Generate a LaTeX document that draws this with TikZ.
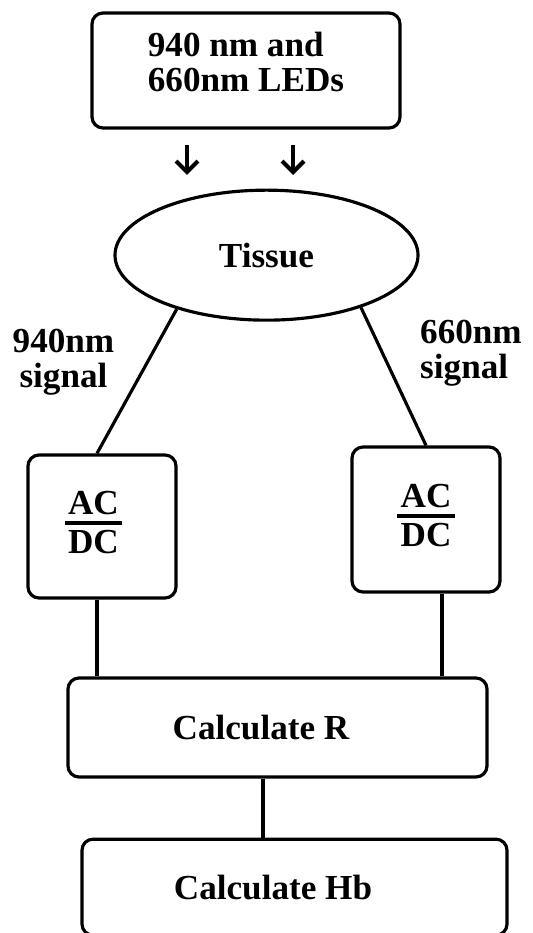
\documentclass[tikz,border=0pt]{standalone}
\usepackage{amsmath}
\usepackage{fontspec}
\setmainfont{Liberation Serif}
\usetikzlibrary{arrows.meta,positioning,shapes.geometric}
\newcommand{\acdc}{\begin{tabular}{@{\hspace{2pt}}c@{\hspace{2pt}}}AC\\[-2pt]\noalign{\hrule height 2.2pt}\rule{0pt}{16pt}DC\end{tabular}}

\begin{document}
\begin{tikzpicture}[every node/.style={font=\fontsize{20}{20}\selectfont\bfseries,align=center},
  box/.style={rounded corners=2.2mm,draw,line width=1.8pt,inner sep=0pt},
  oval/.style={ellipse,draw,line width=1.8pt,inner sep=0pt,minimum width=6.06cm,minimum height=2.6cm},
  wire/.style={line width=1.8pt},
  tip/.style={-{Straight Barb[length=2.2mm,width=4.4mm]},line width=2.4pt}]
  \useasboundingbox (0,0) rectangle (10.66,-18.66);
  \node[box,minimum width=6.16cm,minimum height=2.3cm,align=left] (leds) at (4.92,-1.41) {940 nm and\\660nm LEDs\rule[-3.6mm]{0pt}{0pt}};
  \node[oval,below=1.18cm of leds,xshift=4.1mm] (tissue) {Tissue};
  \node[box,minimum width=2.96cm,minimum height=2.86cm] (acl) at (2.04,-10.53) {\acdc\hspace{0.34cm}};
  \node[box,minimum width=2.96cm,minimum height=2.9cm] (acr) at (8.52,-10.39) {\acdc};
  \node[box,minimum width=8.38cm,minimum height=1.98cm] (calcr) at (5.55,-14.55) {Calculate R\hspace{0.66cm}};
  \node[box,minimum width=8.5cm,minimum height=1.92cm,below=1.18cm of calcr,xshift=3.4mm] (calchb) {Calculate Hb\hspace{0.86cm}};
  % light from the LEDs into the tissue
  \coordinate (inl) at (3.74,-2.9); \coordinate (outl) at (3.74,-3.5);
  \coordinate (inr) at (5.86,-2.9); \coordinate (outr) at (5.86,-3.5);
  \draw[tip] (inl)--(outl); \draw[tip] (inr)--(outr);
  % the two signals
  \draw[wire] (tissue.211)--([xshift=-1mm]acl.north);
  \draw[wire] (tissue.331)--(acr.north);
  \node (sigl) at (1.27,-7.25) {940nm\\signal};
  \node[align=left] (sigr) at (9.42,-7.06) {660nm\\signal};
  \draw[wire] ([xshift=-1mm]acl.south)--([xshift=-1mm]acl.south |- calcr.north);
  \draw[wire] ([xshift=3.2mm]acr.south)--([xshift=3.2mm]acr.south |- calcr.north);
  \draw[wire] ([xshift=-2.9mm]calcr.south)--([xshift=-2.9mm]calcr.south |- calchb.north);
\end{tikzpicture}
\end{document}
